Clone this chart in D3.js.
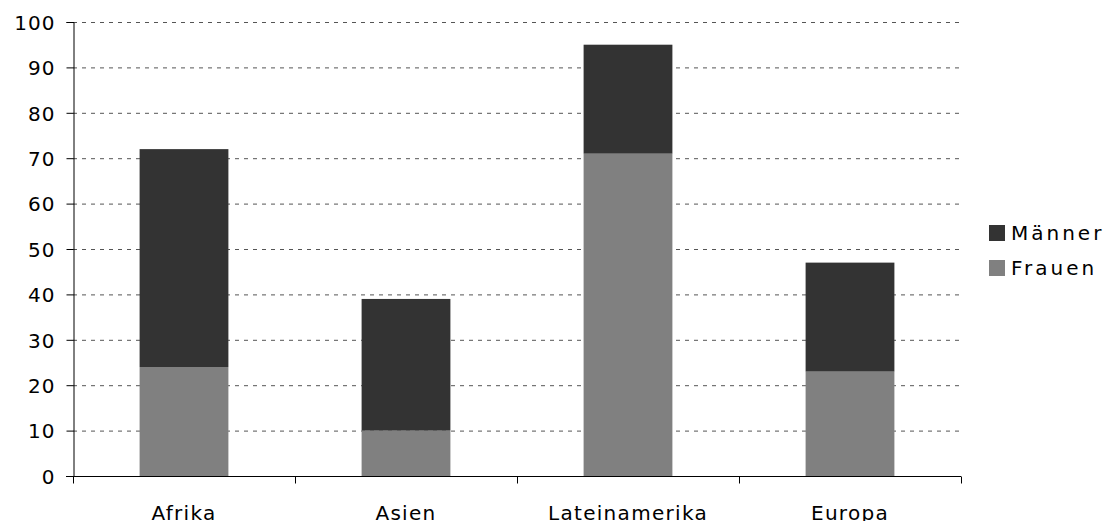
<!DOCTYPE html>
<html>
<head>
<meta charset="utf-8">
<script src="https://cdn.jsdelivr.net/npm/d3@7"></script>
<style>
  body { margin: 0; background: #fff; }
  text { font-family: "DejaVu Sans", Verdana, sans-serif; fill: #000; }
</style>
</head>
<body>
<div id="chart"></div>
<script>
const regions = ["Afrika", "Asien", "Lateinamerika", "Europa"];
const frauen = [24, 10, 71, 23];
const maenner = [48, 29, 24, 24];
const seriesNames = ["Frauen", "Männer"];
const yTicks = [0, 10, 20, 30, 40, 50, 60, 70, 80, 90, 100];

const width = 1111;
const height = 521;
const colors = { "Frauen": "#808080", "Männer": "#333333" };

const area = { left: 73, right: 961, top: 22, bottom: 476 };

const svg = d3.select("#chart").append("svg")
    .attr("width", width)
    .attr("height", height);

const x = d3.scaleBand()
    .domain(regions)
    .range([area.left, area.right])
    .paddingInner(0.6)
    .paddingOuter(0.3);

const y = d3.scaleLinear()
    .domain([0, 100])
    .range([area.bottom, area.top]);

// gridlines
svg.append("g")
    .selectAll("line")
    .data(yTicks.filter(d => d > 0))
    .join("line")
    .attr("x1", area.left)
    .attr("x2", area.right)
    .attr("y1", d => y(d) + 0.5)
    .attr("y2", d => y(d) + 0.5)
    .attr("stroke", "#555")
    .attr("stroke-width", 1)
    .attr("stroke-dasharray", "4,5");

// stacked bars
const table = regions.map((r, i) => ({ region: r, "Frauen": frauen[i], "Männer": maenner[i] }));
const stacked = d3.stack().keys(seriesNames)(table);

svg.append("g")
    .selectAll("g")
    .data(stacked)
    .join("g")
    .attr("fill", d => colors[d.key])
    .selectAll("rect")
    .data(d => d)
    .join("rect")
    .attr("x", d => x(d.data.region))
    .attr("width", x.bandwidth())
    .attr("y", d => y(d[1]))
    .attr("height", d => y(d[0]) - y(d[1]));

// y axis
const yAxis = svg.append("g")
    .attr("transform", `translate(${area.left + 0.5},0)`)
    .attr("font-size", 20)
    .call(d3.axisLeft(y).tickValues(yTicks).tickSize(7).tickPadding(11));
yAxis.attr("font-size", 20).attr("font-family", null);
yAxis.select(".domain").attr("stroke", "#000");
yAxis.selectAll("text")
    .attr("font-size", 20)
    .style("letter-spacing", "1px")
    .attr("dy", "0.36em");

// x axis, ticks at the category borders
const xAxisG = svg.append("g")
    .attr("transform", `translate(0,${area.bottom + 0.5})`);
xAxisG.append("line")
    .attr("x1", area.left - 7)
    .attr("x2", area.right)
    .attr("stroke", "#000");
const borders = regions.map((r, i) => area.left + i * (area.right - area.left) / regions.length)
    .concat([area.right]);
xAxisG.selectAll(".tk")
    .data(borders)
    .join("line")
    .attr("class", "tk")
    .attr("x1", d => Math.round(d) + 0.5)
    .attr("x2", d => Math.round(d) + 0.5)
    .attr("y1", 0)
    .attr("y2", 7)
    .attr("stroke", "#000");
xAxisG.selectAll(".lbl")
    .data(regions)
    .join("text")
    .attr("class", "lbl")
    .attr("x", d => x(d) + x.bandwidth() / 2)
    .attr("y", 43)
    .attr("text-anchor", "middle")
    .attr("font-size", 20)
    .style("letter-spacing", "1.3px")
    .text(d => d);

// legend
const legend = svg.append("g").attr("transform", "translate(989,225)");
const legendItems = ["Männer", "Frauen"];
legend.selectAll("rect")
    .data(legendItems)
    .join("rect")
    .attr("x", 0)
    .attr("y", (d, i) => i * 35)
    .attr("width", 16)
    .attr("height", 16)
    .attr("fill", d => colors[d]);
legend.selectAll("text")
    .data(legendItems)
    .join("text")
    .attr("x", 22)
    .attr("y", (d, i) => i * 35 + 15)
    .attr("font-size", 20)
    .style("letter-spacing", "3px")
    .text(d => d);
</script>
</body>
</html>
